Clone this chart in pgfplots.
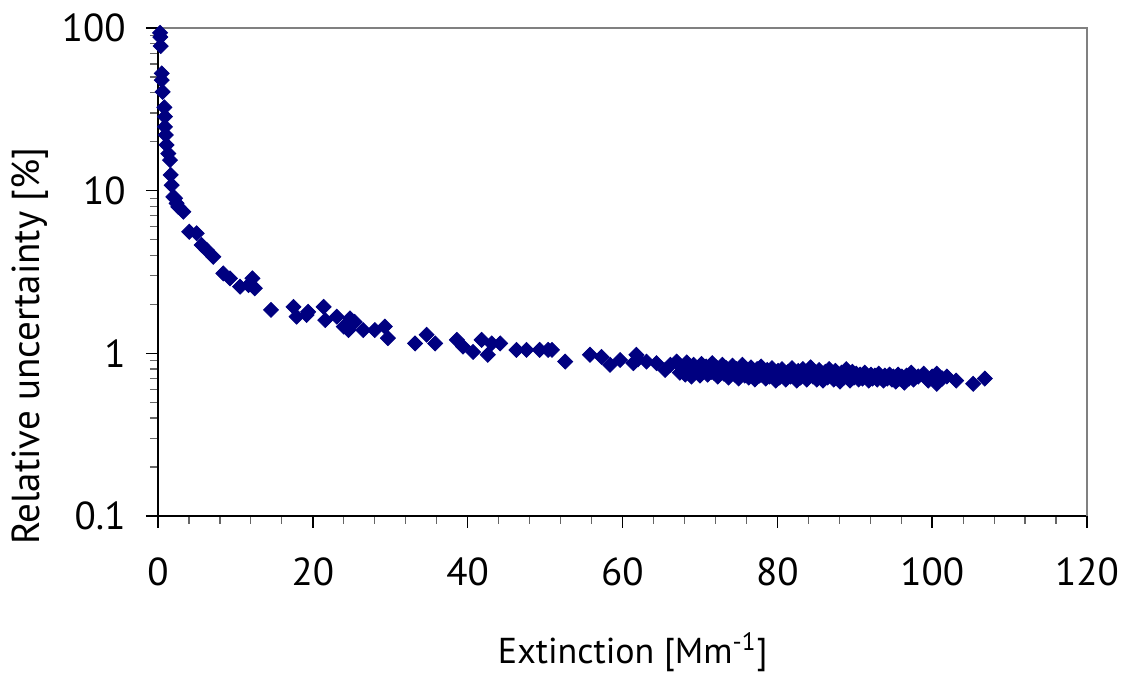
\documentclass[border=0pt]{standalone}
\usepackage{pgfplots}
\pgfplotsset{compat=1.18}
\usepackage{fontspec}
\setmainfont{PT Sans}

\definecolor{navy}{RGB}{0,0,128}

\pgfplotstableread{
x y
0.26 93.4
0.30 88.0
0.35 77.4
0.48 52.6
0.48 47.8
0.60 40.5
0.82 32.5
0.90 28.5
0.90 24.7
1.00 22.0
1.10 19.1
1.33 16.9
1.55 15.4
1.64 12.5
1.77 10.8
1.98 9.17
2.20 8.97
2.40 8.36
2.62 7.96
3.27 7.42
4.04 5.59
5.00 5.47
5.64 4.63
6.29 4.32
7.15 3.92
8.44 3.10
9.30 2.89
10.6 2.57
11.7 2.63
12.2 2.89
12.5 2.51
14.6 1.85
17.5 1.93
17.9 1.68
19.2 1.72
19.4 1.80
21.4 1.93
21.6 1.60
23.1 1.68
24.0 1.46
24.6 1.39
24.8 1.64
25.4 1.56
26.5 1.39
28.0 1.39
29.3 1.46
29.7 1.24
33.2 1.15
34.7 1.30
35.8 1.15
38.6 1.21
39.4 1.10
40.7 1.02
41.8 1.21
42.6 0.98
43.1 1.15
44.2 1.15
46.3 1.05
47.6 1.05
49.3 1.05
50.4 1.05
50.9 1.05
52.6 0.89
55.8 0.98
57.3 0.95
58.4 0.85
59.7 0.91
61.4 0.87
61.8 0.98
62.0 0.92
63.1 0.89
64.4 0.87
65.5 0.79
66.2 0.85
67.0 0.89
67.2 0.86
67.4 0.76
67.8 0.82
68.1 0.74
68.3 0.88
68.6 0.79
68.9 0.72
69.0 0.80
69.2 0.85
69.4 0.77
69.7 0.81
70.0 0.73
70.2 0.86
70.5 0.78
70.8 0.83
71.0 0.74
71.3 0.80
71.5 0.77
71.6 0.87
71.8 0.76
72.1 0.82
72.3 0.72
72.6 0.79
72.9 0.85
73.1 0.75
73.4 0.81
73.7 0.71
73.9 0.78
74.0 0.77
74.2 0.84
74.5 0.74
74.7 0.80
75.0 0.70
75.3 0.77
75.5 0.85
75.8 0.73
76.0 0.76
76.1 0.79
76.3 0.71
76.6 0.82
76.9 0.75
77.1 0.69
77.4 0.80
77.7 0.73
77.9 0.83
78.0 0.74
78.2 0.76
78.5 0.70
78.7 0.79
79.0 0.72
79.3 0.81
79.5 0.74
79.8 0.68
80.0 0.75
80.1 0.78
80.3 0.71
80.6 0.80
80.9 0.74
81.1 0.69
81.4 0.77
81.7 0.72
81.9 0.81
82.0 0.73
82.2 0.75
82.5 0.68
82.7 0.78
83.0 0.71
83.3 0.80
83.5 0.73
83.8 0.69
84.0 0.74
84.1 0.77
84.3 0.82
84.6 0.72
84.9 0.75
85.1 0.69
85.4 0.79
85.7 0.73
85.9 0.68
86.0 0.73
86.2 0.77
86.5 0.71
86.7 0.80
87.0 0.74
87.3 0.69
87.5 0.78
87.8 0.72
88.0 0.72
88.1 0.67
88.3 0.76
88.6 0.71
88.9 0.80
89.1 0.73
89.4 0.68
89.7 0.77
89.9 0.71
90.0 0.72
90.2 0.75
90.5 0.69
90.7 0.74
91.0 0.70
91.3 0.76
91.5 0.72
91.8 0.68
92.0 0.71
92.1 0.74
92.3 0.70
92.6 0.73
92.9 0.69
93.1 0.75
93.4 0.71
93.7 0.68
93.9 0.73
94.0 0.71
94.2 0.70
94.5 0.74
94.8 0.69
95.0 0.72
95.3 0.67
95.6 0.74
95.8 0.70
96.0 0.70
96.1 0.72
96.4 0.66
96.7 0.73
97.0 0.70
97.3 0.76
97.6 0.69
98.2 0.72
98.9 0.75
99.5 0.68
100.0 0.72
100.6 0.75
100.6 0.65
101.3 0.70
101.9 0.72
103.1 0.68
105.3 0.65
106.8 0.70
}\datatable

\begin{document}
\fontsize{19.5}{23}\selectfont
\begin{tikzpicture}
\begin{axis}[
  at={(0,0)}, anchor=south west,
  scale only axis,
  width=464.5pt, height=244pt,
  xmin=0, xmax=120,
  ymode=log, ymin=0.1, ymax=100,
  axis x line*=bottom, axis y line*=left,
  axis line style={black, line width=0.9pt},
  xtick={0,20,...,120},
  minor x tick num=4,
  ytick={0.1,1,10,100},
  yticklabels={0.1,1,10,100},
  tick align=outside,
  major tick length=6pt, minor tick length=4pt,
  every tick/.style={black, line width=0.7pt},
  every minor tick/.style={black!60, line width=0.6pt},
  xticklabel style={anchor=north, yshift=-8pt},
  yticklabel style={anchor=east, xshift=-3.5pt},
  /pgf/number format/assume math mode=true,
  x label style={at={(axis description cs:0.511,-0.2787)}, anchor=center,
    font=\fontsize{18}{22}\selectfont},
  y label style={at={(axis description cs:-0.1378,0.348)}, anchor=center},
  xlabel={Extinction [Mm\textsuperscript{-1}]},
  ylabel={Relative uncertainty [\%]},
  clip=false,
]
\addplot[only marks, mark=square*, mark size=2.65pt, color=navy,
  mark options={rotate=45, draw=navy, fill=navy}] table[x=x, y=y] {\datatable};
\draw[black!50, line width=1.4pt] (rel axis cs:0,1) -- (rel axis cs:1,1) -- (rel axis cs:1,0);
\end{axis}
\pgfresetboundingbox
\useasboundingbox (-79pt,-78.5pt) rectangle (483.5pt,258pt);
\end{tikzpicture}
\end{document}
